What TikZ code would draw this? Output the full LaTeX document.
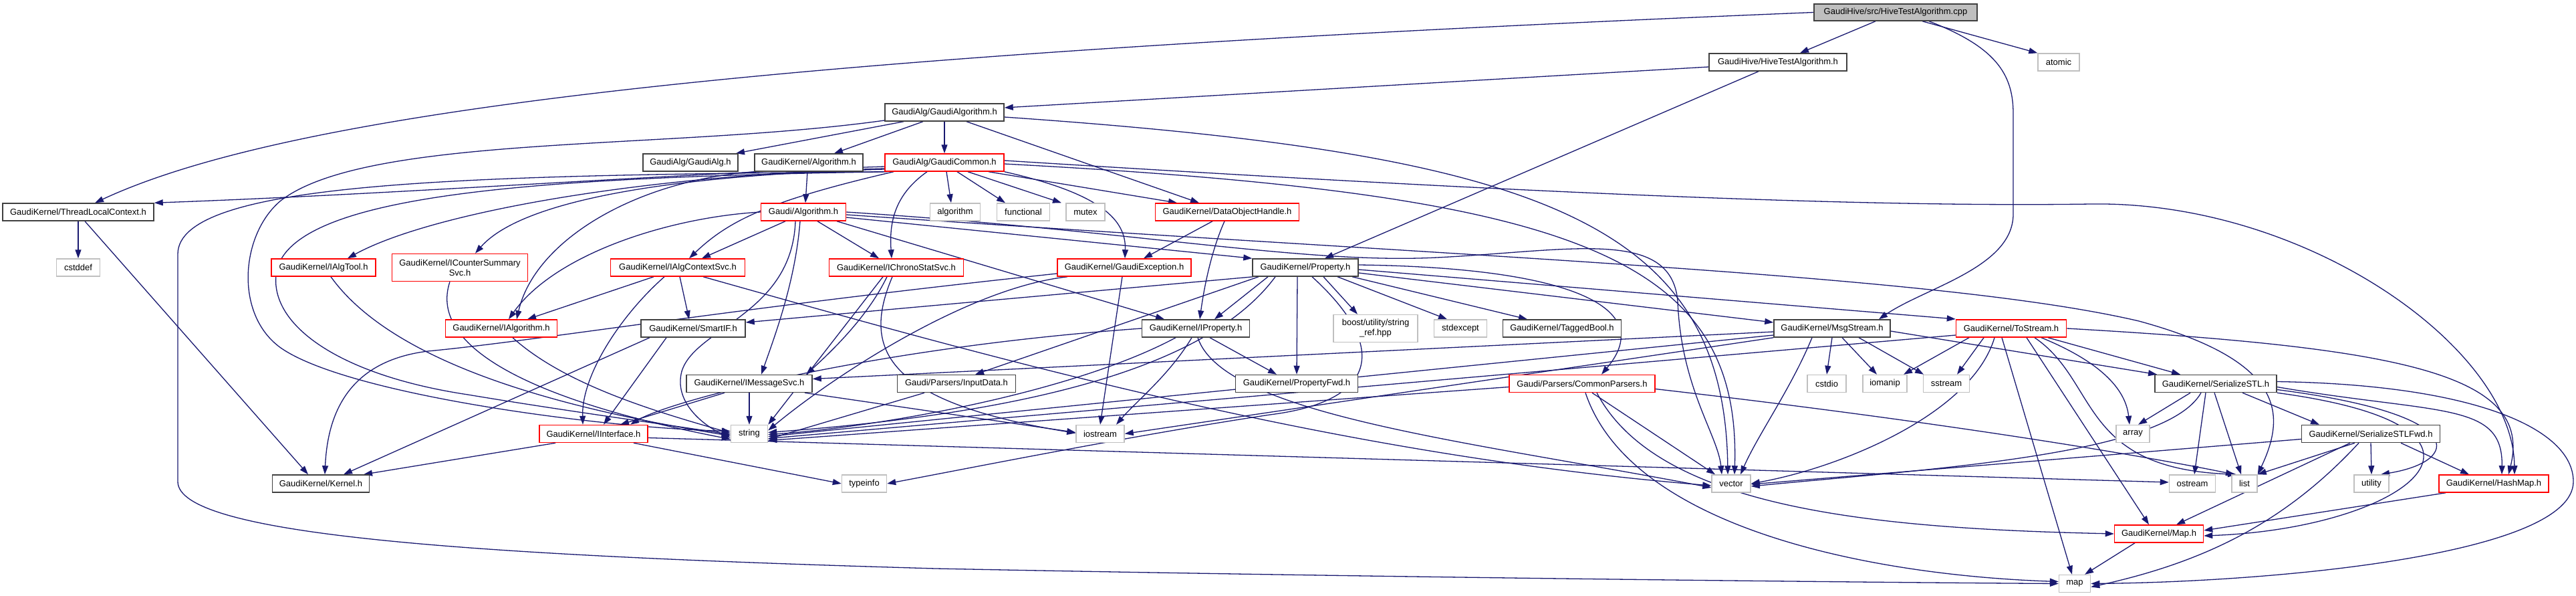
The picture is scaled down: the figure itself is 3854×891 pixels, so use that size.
\documentclass[tikz,border=0pt]{standalone}
\usepackage{fontspec}
\setmainfont{Liberation Sans}
\usetikzlibrary{arrows.meta}
\definecolor{edgec}{HTML}{191970}
\pgfdeclarelayer{edges}
\pgfsetlayers{edges,main}
\newcommand{\fsz}{\fontsize{13pt}{15pt}\selectfont}
\tikzset{
 box/.style={draw=black!75, line width=1.5pt, fill=white, minimum height=26pt, inner sep=1pt, font=\fsz, align=center},
 rbox/.style={box, draw=red},
 gbox/.style={box, draw=black!25},
 cbox/.style={box, fill=black!25, draw=black!75},
 e/.style={draw=edgec, line width=1.3pt, -{Triangle[length=13pt,width=9pt]}},
}
\begin{document}
\begin{tikzpicture}[x=1pt,y=-1pt]
\useasboundingbox (0,0) rectangle (3854,891);
% nodes
\node[cbox, minimum width=244pt, minimum height=25pt] (cpp) at (2836,18.5) {GaudiHive/src/HiveTestAlgorithm.cpp};
\node[box, minimum width=206pt] (hth) at (2660,93) {GaudiHive/HiveTestAlgorithm.h};
\node[gbox, minimum width=62pt] (atomic) at (3080,93) {atomic};
\node[box, minimum width=178pt] (galgo) at (1413,168) {GaudiAlg/GaudiAlgorithm.h};
\node[box, minimum width=142pt] (galg) at (1033,243) {GaudiAlg/GaudiAlg.h};
\node[box, minimum width=162pt] (kalgo) at (1210,243) {GaudiKernel/Algorithm.h};
\node[rbox, minimum width=178pt] (gcommon) at (1413,243) {GaudiAlg/GaudiCommon.h};
\node[box, minimum width=226pt] (tlc) at (117,317) {GaudiKernel/ThreadLocalContext.h};
\node[rbox, minimum width=127pt] (galgorithm) at (1202,317) {Gaudi/Algorithm.h};
\node[gbox, minimum width=75pt] (algorithm) at (1429,317) {algorithm};
\node[gbox, minimum width=79pt] (functional) at (1531,317) {functional};
\node[gbox, minimum width=58pt] (mutex) at (1624,317) {mutex};
\node[rbox, minimum width=215pt] (doh) at (1836,317) {GaudiKernel/DataObjectHandle.h};
\node[gbox, minimum width=65pt] (cstddef) at (117,400) {cstddef};
\node[rbox, minimum width=156pt] (ialgtool) at (484,400) {GaudiKernel/IAlgTool.h};
\node[rbox, minimum width=203pt, minimum height=41pt] (icss) at (688,400) {GaudiKernel/ICounterSummary\\Svc.h};
\node[rbox, minimum width=201pt] (iacs) at (1014,400) {GaudiKernel/IAlgContextSvc.h};
\node[rbox, minimum width=201pt] (ichrono) at (1341,400) {GaudiKernel/IChronoStatSvc.h};
\node[rbox, minimum width=200pt] (gexc) at (1682,400) {GaudiKernel/GaudiException.h};
\node[box, minimum width=158pt] (prop) at (1953,400) {GaudiKernel/Property.h};
\node[rbox, minimum width=167pt] (ialgorithm) at (750,491) {GaudiKernel/IAlgorithm.h};
\node[box, minimum width=156pt] (smartif) at (1037,491) {GaudiKernel/SmartIF.h};
\node[box, minimum width=161pt] (iprop) at (1789,491) {GaudiKernel/IProperty.h};
\node[gbox, minimum width=126pt, minimum height=41pt] (boost) at (2058,491) {boost/utility/string\\\_ref.hpp};
\node[gbox, minimum width=79pt] (stdexcept) at (2185,491) {stdexcept};
\node[box, minimum width=177pt] (taggedbool) at (2337,491) {GaudiKernel/TaggedBool.h};
\node[box, minimum width=174pt] (msgstream) at (2741,491) {GaudiKernel/MsgStream.h};
\node[rbox, minimum width=165pt] (tostream) at (3009,491) {GaudiKernel/ToStream.h};
\node[box, minimum width=188pt] (imsgsvc) at (1121,573.5) {GaudiKernel/IMessageSvc.h};
\node[box, minimum width=177pt] (inputdata) at (1431,573.5) {Gaudi/Parsers/InputData.h};
\node[box, minimum width=183pt] (propfwd) at (1940,573.5) {GaudiKernel/PropertyFwd.h};
\node[rbox, minimum width=218pt] (commonparsers) at (2367,573.5) {Gaudi/Parsers/CommonParsers.h};
\node[gbox, minimum width=58pt] (cstdio) at (2733,573.5) {cstdio};
\node[gbox, minimum width=66pt] (iomanip) at (2820,573.5) {iomanip};
\node[gbox, minimum width=69pt] (sstream) at (2912,573.5) {sstream};
\node[box, minimum width=182pt] (serstl) at (3315,573.5) {GaudiKernel/SerializeSTL.h};
\node[rbox, minimum width=162pt] (iinterface) at (888,648.5) {GaudiKernel/IInterface.h};
\node[gbox, minimum width=55pt] (string) at (1121,648.5) {string};
\node[gbox, minimum width=72pt] (iostream) at (1646,648.5) {iostream};
\node[gbox, minimum width=50pt] (array) at (3191,648.5) {array};
\node[box, minimum width=207pt] (serstlfwd) at (3547,648.5) {GaudiKernel/SerializeSTLFwd.h};
\node[box, minimum width=145pt] (kernel) at (480,723) {GaudiKernel/Kernel.h};
\node[gbox, minimum width=67pt] (typeinfo) at (1293,723) {typeinfo};
\node[gbox, minimum width=58pt] (vector) at (2590,723) {vector};
\node[gbox, minimum width=69pt] (ostream) at (3280,723) {ostream};
\node[gbox, minimum width=38pt] (list) at (3358,723) {list};
\node[gbox, minimum width=52pt] (utility) at (3548,723) {utility};
\node[rbox, minimum width=164pt] (hashmap) at (3731,723) {GaudiKernel/HashMap.h};
\node[rbox, minimum width=133pt] (maph) at (3230,798) {GaudiKernel/Map.h};
\node[gbox, minimum width=47pt] (map) at (3104,872.5) {map};

\begin{pgfonlayer}{edges}
% cpp
\draw[e] (cpp.west) .. controls (1200,80) and (450,160) .. ([xshift=25pt]tlc.north);
\draw[e] ([xshift=-30pt]cpp.south) -- ([xshift=33pt]hth.north);
\draw[e] ([xshift=40pt]cpp.south) -- (atomic.north west);
\draw[e] ([xshift=50pt]cpp.south) .. controls (2985,70) and (3012,110) .. (3012,170) -- (3012,320) .. controls (3012,400) and (2880,430) .. ([xshift=70pt]msgstream.north);
% hth
\draw[e] ([yshift=-7pt]hth.west) -- ([yshift=7pt]galgo.east);
\draw[e] ([xshift=-29pt]hth.south) -- ([xshift=29pt]prop.north);
% galgo
\draw[e] ([xshift=-61pt]galgo.south) -- ([xshift=68pt]galg.north);
\draw[e] ([xshift=-32pt]galgo.south) -- ([xshift=38pt]kalgo.north);
\draw[e] (galgo) -- (gcommon);
\draw[e] ([xshift=33pt]galgo.south) -- ([xshift=-42pt]doh.north);
\draw[e] ([yshift=-7pt]galgo.east) .. controls (2300,230) and (2580,330) .. ([xshift=-5pt]vector.north);
\draw[e] ([yshift=-12pt]galgo.west) .. controls (1000,225) and (550,200) .. (420,300) .. controls (360,350) and (350,470) .. (420,520) .. controls (520,590) and (900,640) .. ([yshift=4pt]string.west);
% kalgo
\draw[e] ([xshift=-2pt]kalgo.south) -- ([xshift=3pt]galgorithm.north);
\draw[e] (kalgo.south west) .. controls (950,270) and (800,360) .. ([xshift=23pt]ialgorithm.north);
% gcommon
\draw[e] ([yshift=-6pt]gcommon.west) .. controls (1000,260) and (600,290) .. (tlc.north east);
\draw[e] ([yshift=-9pt]gcommon.west) .. controls (950,262) and (640,320) .. ([xshift=36pt]ialgtool.north);
\draw[e] ([yshift=-10pt]gcommon.west) .. controls (1000,262) and (780,300) .. ([xshift=23pt]icss.north);
\draw[e] ([xshift=2pt]gcommon.south west) .. controls (700,262) and (266,270) .. (266,380) -- (266,720) .. controls (266,800) and (700,830) .. (1400,850) .. controls (2000,862) and (2700,870) .. (map.west);
\draw[e] ([xshift=4pt]gcommon.south west) .. controls (800,265) and (450,290) .. (415,400) .. controls (395,480) and (500,560) .. (700,590) .. controls (850,615) and (1000,635) .. ([yshift=-1pt]string.west);
\draw[e] ([xshift=3pt]gcommon.south) -- ([xshift=-6pt]algorithm.north);
\draw[e] ([xshift=19pt]gcommon.south) -- ([xshift=-27pt]functional.north);
\draw[e] ([xshift=35pt]gcommon.south) -- ([xshift=-36pt]mutex.north);
\draw[e] ([xshift=66pt]gcommon.south) -- ([xshift=-75pt]doh.north);
\draw[e] (gcommon.south east) .. controls (1650,290) and (1685,330) .. ([xshift=1pt]gexc.north);
\draw[e] ([xshift=-76pt]gcommon.south) .. controls (1150,300) and (1090,330) .. ([xshift=17pt]iacs.north);
\draw[e] ([xshift=-26pt]gcommon.south) .. controls (1340,290) and (1330,330) .. ([xshift=-7pt]ichrono.north);
\draw[e] ([yshift=3pt]gcommon.east) .. controls (2300,290) and (2800,310) .. (3128,305) .. controls (3450,300) and (3760,520) .. ([xshift=31pt]hashmap.north);
\draw[e] ([yshift=-2pt]gcommon.east) .. controls (2350,290) and (2605,380) .. ([xshift=5pt]vector.north);
% tlc
\draw[e] (tlc) -- (cstddef);
\draw[e] ([xshift=10pt]tlc.south) -- ([xshift=-19pt]kernel.north);
% galgorithm
\draw[e] (galgorithm.west) .. controls (1000,325) and (830,380) .. ([xshift=11pt]ialgorithm.north);
\draw[e] ([xshift=-27pt]galgorithm.south) -- ([xshift=36pt]iacs.north);
\draw[e] ([xshift=21pt]galgorithm.south) -- ([xshift=-26pt]ichrono.north);
\draw[e] ([yshift=-8pt]galgorithm.east) -- (prop.north west);
\draw[e] ([xshift=50pt]galgorithm.south) -- ([xshift=-47pt]iprop.north);
\draw[e] ([xshift=-5pt]galgorithm.south) .. controls (1190,420) and (1160,500) .. ([xshift=18pt]imsgsvc.north);
\draw[e] ([xshift=-12pt]galgorithm.south) .. controls (1185,470) and (1040,490) .. (1020,555) .. controls (1008,600) and (1050,635) .. ([yshift=-6pt]string.west);
\draw[e] ([yshift=-4pt]galgorithm.east) .. controls (2200,385) and (2900,410) .. (3200,480) .. controls (3420,540) and (3420,620) .. (list.north east);
\draw[e] (galgorithm.east) .. controls (1700,345) and (1950,395) .. (2150,385) .. controls (2350,375) and (2500,340) .. (2510,450) .. controls (2515,580) and (2570,650) .. ([xshift=-14pt]vector.north);
% iacs
\draw[e] ([xshift=-36pt]iacs.south) -- ([xshift=39pt]ialgorithm.north);
\draw[e] ([xshift=-20pt]iacs.south) .. controls (930,470) and (870,560) .. ([xshift=-16pt]iinterface.north);
\draw[e] ([xshift=3pt]iacs.south) -- ([xshift=-6pt]smartif.north);
\draw[e] ([xshift=38pt]iacs.south) .. controls (1500,540) and (2000,680) .. ([yshift=-3pt]vector.west);
% ichrono
\draw[e] ([xshift=-14pt]ichrono.south) .. controls (1300,470) and (1250,520) .. ([xshift=85pt]imsgsvc.north);
\draw[e] ([xshift=-20pt]ichrono.south) -- (string.north east);
\draw[e] ([xshift=-6pt]ichrono.south) .. controls (1290,520) and (1320,600) .. ([yshift=1pt]iostream.west);
% gexc
\draw[e] ([yshift=-9pt]gexc.west) .. controls (1100,460) and (800,510) .. (640,525) .. controls (520,540) and (490,620) .. ([xshift=6pt]kernel.north);
\draw[e] ([xshift=-3pt]gexc.south) -- (iostream.north);
\draw[e] ([xshift=-85pt]gexc.south) .. controls (1450,430) and (1250,560) .. ([yshift=5pt]string.east);
% doh
\draw[e] ([xshift=-22pt]doh.south) -- ([xshift=29pt]gexc.north);
\draw[e] ([xshift=-4pt]doh.south) .. controls (1810,380) and (1800,440) .. ([xshift=6pt]iprop.north);
% prop
\draw[e] ([xshift=-78pt]prop.south) -- ([yshift=9pt]smartif.east);
\draw[e] ([xshift=-56pt]prop.south) -- ([xshift=28pt]iprop.north);
\draw[e] ([xshift=-12pt]prop.south) -- (propfwd.north);
\draw[e] ([xshift=27pt]prop.south) -- ([xshift=-27pt]boost.north);
\draw[e] ([xshift=48pt]prop.south) -- ([xshift=-20pt]stdexcept.north);
\draw[e] ([xshift=70pt]prop.south) -- ([xshift=-52pt]taggedbool.north);
\draw[e] ([yshift=-8pt]prop.east) -- ([yshift=9pt]msgstream.west);
\draw[e] ([yshift=-3pt]prop.east) -- ([yshift=14pt]tostream.west);
\draw[e] ([yshift=4pt]prop.east) .. controls (2350,400) and (2480,460) .. ([xshift=29pt]commonparsers.north);
\draw[e] ([xshift=-70pt]prop.south) -- ([xshift=28pt]inputdata.north);
\draw[e] ([xshift=-45pt]prop.south) .. controls (1800,560) and (1500,620) .. ([yshift=2pt]string.east);
\draw[e] ([xshift=10pt]prop.south) .. controls (2080,520) and (2060,600) .. (1900,620) .. controls (1700,650) and (1450,700) .. (typeinfo.east);
% iprop
\draw[e] (iprop.west) .. controls (1300,520) and (1000,600) .. ([xshift=55pt]iinterface.north);
\draw[e] ([xshift=21pt]iprop.south) -- ([xshift=-30pt]propfwd.north);
\draw[e] ([xshift=-30pt]iprop.south) .. controls (1600,590) and (1300,640) .. ([yshift=-1pt]string.east);
\draw[e] ([xshift=-6pt]iprop.south) .. controls (1750,560) and (1700,600) .. ([xshift=24pt]iostream.north);
\draw[e] ([xshift=3pt]iprop.south) .. controls (1830,620) and (2200,660) .. ([yshift=-6pt]vector.west);
% msgstream
\draw[e] ([yshift=-5pt]msgstream.west) -- ([yshift=7pt]imsgsvc.east);
\draw[e] ([yshift=-10pt]msgstream.west) -- ([yshift=-4pt]string.east);
\draw[e] (msgstream.south west) -- (iostream.east);
\draw[e] (msgstream.south) -- (cstdio.north);
\draw[e] ([xshift=15pt]msgstream.south) -- ([xshift=-12pt]iomanip.north);
\draw[e] ([xshift=40pt]msgstream.south) -- ([xshift=-34pt]sstream.north);
\draw[e] ([xshift=-30pt]msgstream.south) .. controls (2680,580) and (2630,650) .. ([xshift=14pt]vector.north);
\draw[e] ([yshift=-4pt]msgstream.east) -- ([xshift=-88pt]serstl.north);
% tostream
\draw[e] ([xshift=-63pt]tostream.south) -- ([xshift=28pt]iomanip.north);
\draw[e] ([xshift=-41pt]tostream.south) -- ([xshift=16pt]sstream.north);
\draw[e] ([xshift=-25pt]tostream.south) .. controls (2950,620) and (2750,700) .. (vector.east);
\draw[e] ([xshift=-14pt]tostream.south) -- ([xshift=-4pt]map.north);
\draw[e] ([xshift=23pt]tostream.south) -- ([xshift=-15pt]maph.north);
\draw[e] ([xshift=35pt]tostream.south) .. controls (3140,570) and (3110,700) .. ([xshift=-12pt]list.north);
\draw[e] ([xshift=45pt]tostream.south) .. controls (3140,540) and (3180,580) .. ([xshift=-5pt]array.north);
\draw[e] ([xshift=55pt]tostream.south) -- ([xshift=-53pt]serstl.north);
\draw[e] (tostream.east) .. controls (3600,520) and (3790,560) .. ([xshift=22pt]hashmap.north);
\draw[e] ([yshift=-10pt]tostream.west) -- ([yshift=-7pt]string.east);
% commonparsers
\draw[e] ([yshift=-5pt]commonparsers.west) -- ([yshift=-10pt]string.east);
\draw[e] ([xshift=15pt]commonparsers.south) -- ([xshift=-24pt]vector.north);
\draw[e] ([xshift=22pt]commonparsers.south) .. controls (2480,760) and (2800,790) .. (maph.west);
\draw[e] ([xshift=5pt]commonparsers.south) .. controls (2440,790) and (2800,860) .. ([yshift=3pt]map.west);
\draw[e] ([yshift=-8pt]commonparsers.east) .. controls (2900,630) and (3200,680) .. ([xshift=-15pt]list.north);
% serstl
\draw[e] ([xshift=-38pt]serstl.south) -- ([xshift=8pt]array.north);
\draw[e] ([xshift=-15pt]serstl.south) -- ([xshift=3pt]ostream.north);
\draw[e] ([xshift=-2pt]serstl.south) -- ([xshift=-5pt]list.north);
\draw[e] ([xshift=40pt]serstl.south) -- ([xshift=-77pt]serstlfwd.north);
\draw[e] ([xshift=-22pt]serstl.south) .. controls (3240,680) and (2900,700) .. ([yshift=-4pt]vector.east);
\draw[e] ([yshift=-9pt]serstl.east) .. controls (3700,620) and (3680,690) .. ([xshift=14pt]utility.north);
\draw[e] (serstl.south east) .. controls (3800,640) and (3600,790) .. ([yshift=-3pt]maph.east);
\draw[e] ([yshift=-5pt]serstl.east) .. controls (3650,620) and (3745,600) .. ([xshift=12pt]hashmap.north);
\draw[e] ([yshift=3pt]serstl.east) .. controls (3700,575) and (3850,640) .. (3850,720) .. controls (3850,830) and (3400,870) .. (map.east);
% serstlfwd
\draw[e] ([yshift=-8pt]serstlfwd.west) -- ([yshift=-1pt]vector.east);
\draw[e] ([xshift=-24pt]serstlfwd.south) -- (list.north east);
\draw[e] (serstlfwd.south) -- (utility.north);
\draw[e] ([xshift=45pt]serstlfwd.south) -- ([xshift=-37pt]hashmap.north);
\draw[e] ([xshift=-31pt]serstlfwd.south) -- ([xshift=26pt]maph.north);
\draw[e] ([xshift=-18pt]serstlfwd.south) .. controls (3420,780) and (3300,840) .. ([yshift=-5pt]map.east);
% hashmap, maph
\draw[e] ([xshift=-72pt]hashmap.south) -- ([yshift=5pt]maph.east);
\draw[e] ([xshift=-36pt]maph.south) -- ([xshift=15pt]map.north);
% iinterface
\draw[e] ([xshift=-57pt]iinterface.south) -- ([xshift=64pt]kernel.north);
\draw[e] ([yshift=-6pt]iinterface.east) -- ([yshift=2pt]ostream.west);
\draw[e] ([xshift=60pt]iinterface.south) -- (typeinfo.west);
% smartif
\draw[e] ([xshift=-40pt]smartif.south) -- ([xshift=15pt]iinterface.north);
\draw[e] ([xshift=-65pt]smartif.south) -- ([xshift=34pt]kernel.north);
% imsgsvc
\draw[e] ([xshift=-37pt]imsgsvc.south) -- ([xshift=40pt]iinterface.north);
\draw[e] (imsgsvc) -- (string);
\draw[e] ([xshift=83pt]imsgsvc.south) -- ([yshift=2pt]iostream.west);
% inputdata
\draw[e] ([xshift=-48pt]inputdata.south) -- ([yshift=-8pt]string.east);
% ialgorithm, ialgtool, icss
\draw[e] ([xshift=17pt]ialgorithm.south) .. controls (850,580) and (1000,620) .. ([yshift=1pt]string.west);
\draw[e] ([xshift=11pt]ialgtool.south) .. controls (600,560) and (900,620) .. ([yshift=-3pt]string.west);
\draw[e] ([xshift=-15pt]icss.south) .. controls (640,520) and (800,600) .. ([yshift=-8pt]string.west);
\end{pgfonlayer}
\end{tikzpicture}
\end{document}
